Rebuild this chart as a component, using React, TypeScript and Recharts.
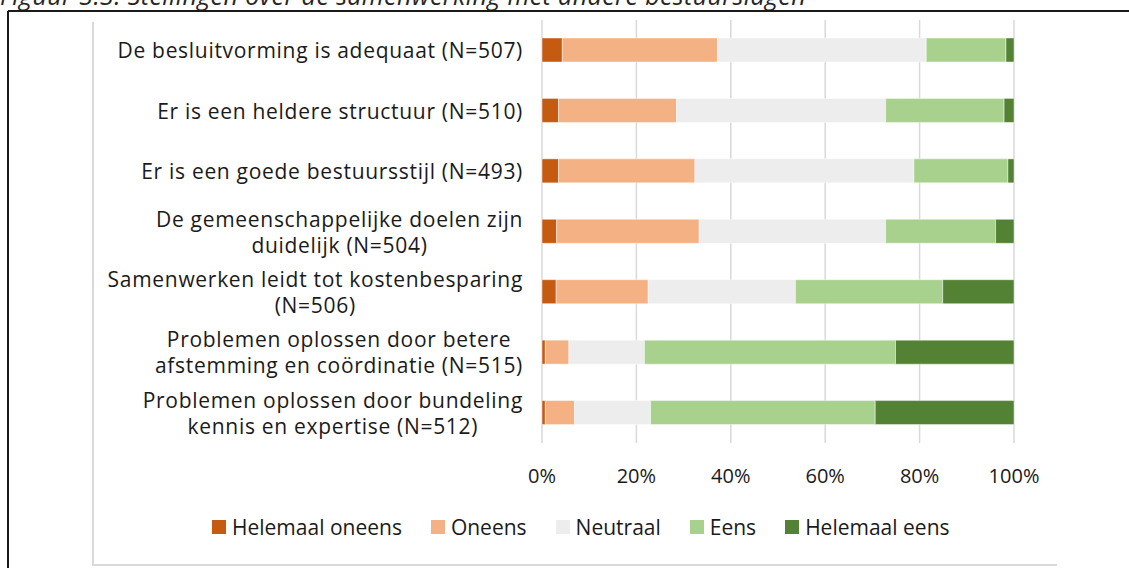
import React from "react";
import { BarChart, Bar, XAxis, YAxis, CartesianGrid } from "recharts";

// statements, top to bottom ("\n" = line break in the axis label)
const statements = [
  "De besluitvorming is adequaat (N=507)",
  "Er is een heldere structuur (N=510)",
  "Er is een goede bestuursstijl (N=493)",
  "De gemeenschappelijke doelen zijn\nduidelijk (N=504)",
  "Samenwerken leidt tot kostenbesparing\n(N=506)",
  "Problemen oplossen door betere\nafstemming en coördinatie (N=515)",
  "Problemen oplossen door bundeling\nkennis en expertise (N=512)",
];

// percentages per answer category
const helemaalOneens = [4.3, 3.5, 3.5, 3.1, 3.0, 0.7, 0.7];
const oneens = [32.9, 25.0, 28.9, 30.2, 19.5, 5.0, 6.2];
const neutraal = [44.2, 44.3, 46.4, 39.5, 31.2, 16.0, 16.1];
const eens = [16.9, 25.1, 19.9, 23.3, 31.2, 53.2, 47.6];
const helemaalEens = [1.7, 2.1, 1.3, 3.9, 15.1, 25.1, 29.4];

const xTicks = [0, 20, 40, 60, 80, 100];

const series = [
  { key: "helemaalOneens", name: "Helemaal oneens", color: "#C55A11" },
  { key: "oneens", name: "Oneens", color: "#F4B183" },
  { key: "neutraal", name: "Neutraal", color: "#EDEDED" },
  { key: "eens", name: "Eens", color: "#A9D18E" },
  { key: "helemaalEens", name: "Helemaal eens", color: "#548235" },
];

const chartData = statements.map((label, i) => ({
  label,
  helemaalOneens: helemaalOneens[i],
  oneens: oneens[i],
  neutraal: neutraal[i],
  eens: eens[i],
  helemaalEens: helemaalEens[i],
}));

const FONT = '"Open Sans", sans-serif';
const LABEL_SIZE = 21;
const LABEL_SPACING = 0.7;

// measure text width so multi-line labels can be centred within their block
let ctx: CanvasRenderingContext2D | null = null;
const measure = (text: string) => {
  if (!ctx) {
    ctx = document.createElement("canvas").getContext("2d");
  }
  if (!ctx) return text.length * 10;
  ctx.font = `${LABEL_SIZE}px ${FONT}`;
  return ctx.measureText(text).width + text.length * LABEL_SPACING;
};

const StatementTick = (props: any) => {
  const { x, y, payload } = props;
  const lines: string[] = String(payload.value).split("\n");
  const block = Math.max(...lines.map(measure));
  const cx = x - 19 - block / 2;
  const lineGap = 26;
  const startY = y - ((lines.length - 1) * lineGap) / 2;
  return (
    <g>
      {lines.map((line, i) => (
        <text
          key={i}
          x={cx}
          y={startY + i * lineGap}
          textAnchor="middle"
          dominantBaseline="central"
          fill="#1a1a1a"
          style={{
            fontFamily: FONT,
            fontSize: LABEL_SIZE,
            letterSpacing: LABEL_SPACING,
          }}
        >
          {line}
        </text>
      ))}
    </g>
  );
};

const App: React.FC = () => {
  return (
    <div
      style={{
        position: "absolute",
        left: 0,
        top: 0,
        width: 1129,
        height: 568,
        overflow: "hidden",
        background: "#ffffff",
      }}
    >
      {/* frame, title and inner chart border */}
      <svg
        width={1129}
        height={568}
        style={{ position: "absolute", left: 0, top: 0 }}
      >
        <text
          x={0}
          y={5}
          fill="#262626"
          style={{
            fontFamily: FONT,
            fontSize: 25,
            fontStyle: "italic",
            letterSpacing: 0.4,
          }}
        >
          Figuur 3.3: Stellingen over de samenwerking met andere bestuurslagen
        </text>
        <line x1={8} y1={11} x2={1129} y2={11} stroke="#1a1a1a" strokeWidth={2} />
        <line x1={8} y1={11} x2={8} y2={568} stroke="#1a1a1a" strokeWidth={2} />
        <line x1={93} y1={22} x2={93} y2={566} stroke="#d9d9d9" strokeWidth={2} />
        <line x1={92} y1={565} x2={1057} y2={565} stroke="#d9d9d9" strokeWidth={2} />
      </svg>

      <div style={{ position: "absolute", left: 0, top: 0 }}>
        <BarChart
          width={1129}
          height={568}
          data={chartData}
          layout="vertical"
          margin={{ top: 20, right: 115, bottom: 0, left: 0 }}
          barSize={24}
        >
          <CartesianGrid
            horizontal={false}
            stroke="#d9d9d9"
            strokeWidth={1.5}
          />
          <XAxis
            type="number"
            domain={[0, 100]}
            ticks={xTicks}
            tickFormatter={(v) => `${v}%`}
            axisLine={false}
            tickLine={false}
            tickSize={0}
            tickMargin={26}
            height={125}
            tick={{ fill: "#1a1a1a", fontSize: 20, fontFamily: FONT }}
          />
          <YAxis
            type="category"
            dataKey="label"
            width={542}
            axisLine={false}
            tickLine={false}
            tickSize={0}
            tickMargin={0}
            interval={0}
            tick={<StatementTick />}
          />
          {series.map((s) => (
            <Bar
              key={s.key}
              dataKey={s.key}
              name={s.name}
              stackId="a"
              fill={s.color}
              stroke="#ffffff"
              strokeWidth={0.75}
              strokeOpacity={0.6}
              isAnimationActive={false}
            />
          ))}
        </BarChart>
      </div>

      {/* legend */}
      <div
        style={{
          position: "absolute",
          left: 212,
          top: 513,
          display: "flex",
          alignItems: "center",
          gap: 29,
          fontFamily: FONT,
          fontSize: 21,
          color: "#1a1a1a",
          whiteSpace: "nowrap",
        }}
      >
        {series.map((s) => (
          <div key={s.key} style={{ display: "flex", alignItems: "center", gap: 6 }}>
            <span
              style={{
                display: "inline-block",
                width: 14,
                height: 14,
                background: s.color,
              }}
            />
            <span>{s.name}</span>
          </div>
        ))}
      </div>
    </div>
  );
};

export default App;
